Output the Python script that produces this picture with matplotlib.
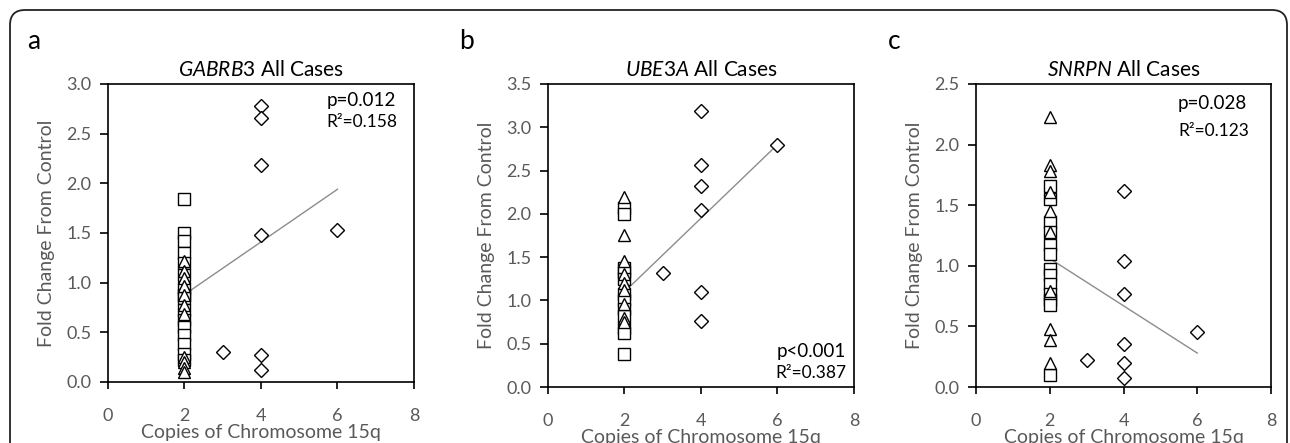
import numpy as np
import matplotlib
matplotlib.use('Agg')
import matplotlib.pyplot as plt
from matplotlib.patches import FancyBboxPatch

# ----------------------------------------------------------
# data
# ----------------------------------------------------------
titles = ['GABRB3', 'UBE3A', 'SNRPN']
letters = ['a', 'b', 'c']

# copies = 2, squares
a_sq = [1.84, 1.50, 1.42, 1.30, 1.20, 1.08, 0.95, 0.88, 0.85, 0.72, 0.62, 0.55, 0.47, 0.38, 0.28, 0.22]
b_sq = [2.07, 2.00, 1.38, 1.33, 1.25, 1.08, 1.00, 0.90, 0.82, 0.68, 0.62, 0.38]
c_sq = [1.66, 1.55, 1.36, 1.28, 1.17, 1.10, 0.97, 0.92, 0.85, 0.77, 0.72, 0.68, 0.10]

# copies = 2, triangles
a_tri = [1.22, 1.12, 1.05, 0.97, 0.88, 0.78, 0.68, 0.25, 0.20, 0.14, 0.10]
b_tri = [2.20, 1.76, 1.46, 1.30, 1.20, 1.12, 0.96, 0.80, 0.75]
c_tri = [2.23, 1.83, 1.78, 1.61, 1.45, 1.28, 0.79, 0.48, 0.39, 0.20]

# diamonds (copies 3, 4, 6)
dia_x = [3, 4, 4, 4, 4, 4, 4, 6]
a_dia = [0.30, 2.78, 2.66, 2.18, 1.48, 0.27, 0.12, 1.53]
b_dia = [1.32, 3.19, 2.56, 2.32, 2.04, 1.10, 0.76, 2.80]
c_dia = [0.22, 1.62, 1.04, 0.77, 0.355, 0.195, 0.077, 0.456]

# trend lines (value at x=2 and x=6)
trend_x = [2, 6]
a_trend = [0.88, 1.94]
b_trend = [1.10, 2.80]
c_trend = [1.06, 0.28]

stats = [('p=0.012', 'R\u00b2=0.158'), ('p<0.001', 'R\u00b2=0.387'), ('p=0.028', 'R\u00b2=0.123')]
ymax = [3.0, 3.5, 2.5]

sq_list = [a_sq, b_sq, c_sq]
tri_list = [a_tri, b_tri, c_tri]
dia_list = [a_dia, b_dia, c_dia]
trend_list = [a_trend, b_trend, c_trend]

# ----------------------------------------------------------
# style
# ----------------------------------------------------------
plt.rcParams['font.family'] = ['Lato', 'DejaVu Sans']
plt.rcParams['mathtext.fontset'] = 'custom'
plt.rcParams['mathtext.rm'] = 'Lato'
plt.rcParams['mathtext.it'] = 'Lato:italic'
gray = '#595959'

fig = plt.figure(figsize=(12.9, 4.43), dpi=100)

# axes rectangles (figure fraction)
rects = [[0.0837, 0.1377, 0.2372, 0.6727],
         [0.4248, 0.1264, 0.2372, 0.6840],
         [0.7566, 0.1264, 0.2287, 0.6840]]

# stats text positions (axes fraction): x, y of p line, y of R2 line, ha
stat_pos = [(0.715, 0.945, 0.872, 'left'),
            (0.975, 0.116, 0.046, 'right'),
            (0.685, 0.937, 0.845, 'left')]

for i in range(3):
    ax = fig.add_axes(rects[i])
    n_sq = len(sq_list[i])
    n_tri = len(tri_list[i])
    ax.plot([2] * n_sq, sq_list[i], 's', ms=9, mfc='white', mec='black', mew=1.0, clip_on=False)
    ax.plot([2] * n_tri, tri_list[i], '^', ms=9, mfc='white', mec='black', mew=1.0, clip_on=False)
    ax.plot(dia_x, dia_list[i], 'D', ms=7, mfc='white', mec='black', mew=1.0, clip_on=False)
    ax.plot(trend_x, trend_list[i], '-', color='#8c8c8c', lw=1.0, zorder=1)

    ax.set_xlim(0, 8)
    ax.set_ylim(0, ymax[i])
    ax.set_xticks([0, 2, 4, 6, 8])
    yt = np.arange(0, ymax[i] + 0.01, 0.5)
    ax.set_yticks(yt)
    ax.set_yticklabels(['%.1f' % v for v in yt])
    ax.tick_params(axis='x', direction='out', length=5, width=1.2, pad=14,
                   labelsize=13, labelcolor=gray)
    ax.tick_params(axis='y', direction='out', length=6, width=1.2, pad=6,
                   labelsize=13, labelcolor=gray)
    for sp in ax.spines.values():
        sp.set_linewidth(1.2)

    ax.set_xlabel('Copies of Chromosome 15q', fontsize=14, color=gray, labelpad=0)
    ax.set_ylabel('Fold Change From Control', fontsize=14, color=gray, labelpad=8)
    ax.set_title(r'$\mathit{%s}$ All Cases' % titles[i], fontsize=15, pad=6)

    sx, sy1, sy2, ha = stat_pos[i]
    ax.text(sx, sy1, stats[i][0], transform=ax.transAxes, ha=ha, va='center', fontsize=13.5)
    ax.text(sx, sy2, stats[i][1], transform=ax.transAxes, ha=ha, va='center', fontsize=12.5)

# panel letters
letter_x = [0.021, 0.356, 0.688]
for i in range(3):
    fig.text(letter_x[i], 0.935, letters[i], fontsize=19, ha='left', va='top')

# rounded frame
box = FancyBboxPatch((0.10, -1.0), 12.77, 5.33, boxstyle='round,pad=0,rounding_size=0.15',
                     transform=fig.dpi_scale_trans, fill=False, ec='#222222', lw=1.3)
fig.patches.append(box)

fig.savefig('out.png', dpi=100)
